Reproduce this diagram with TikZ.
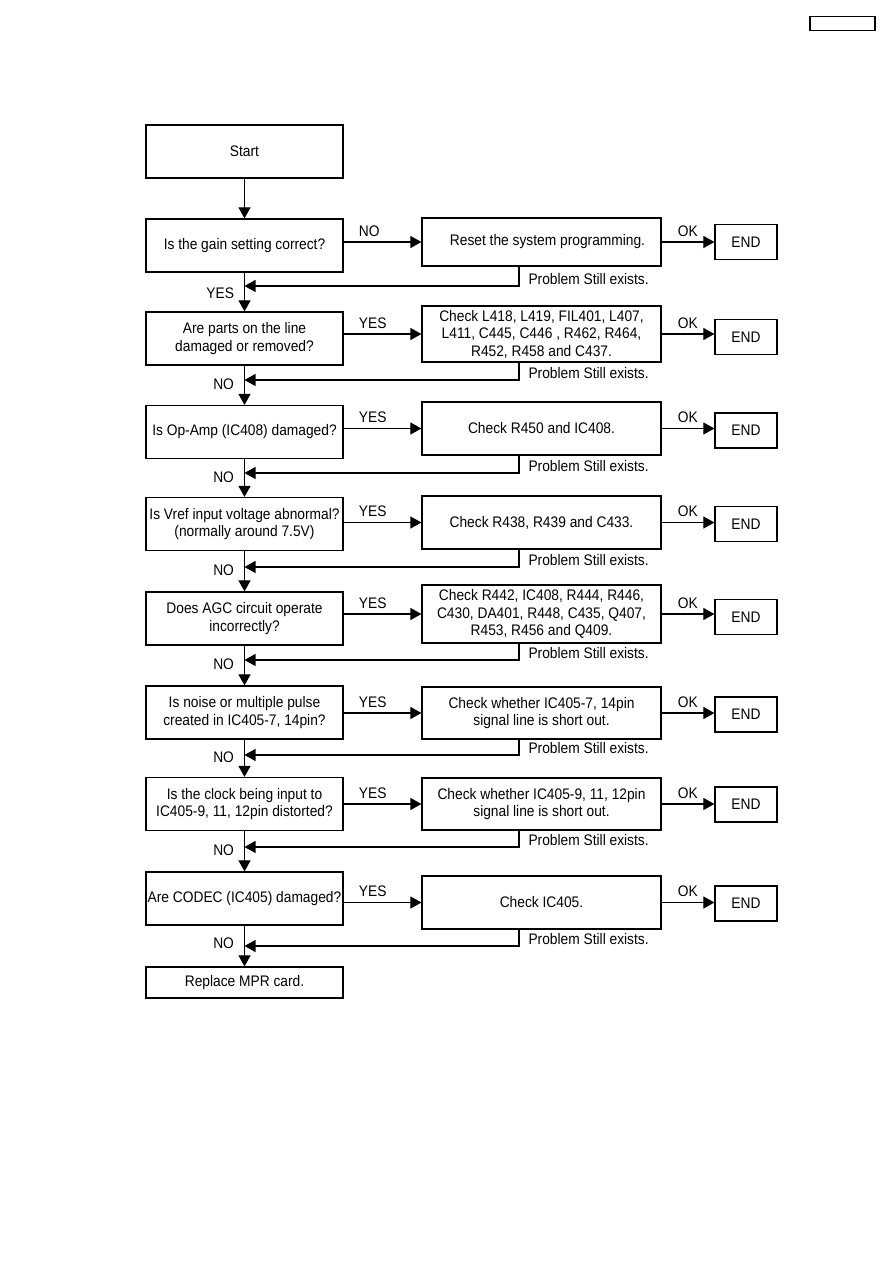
\documentclass[tikz,border=0pt]{standalone}
\usepackage{fontspec}
\setmainfont{Liberation Sans}[FakeStretch=0.9]
\usetikzlibrary{arrows.meta,positioning}
\begin{document}
\begin{tikzpicture}[x=1pt, y=-1pt,
  font=\fontsize{15.3}{17.5}\selectfont,
  box/.style={draw, rectangle, align=center, inner sep=0pt, line width=1.2pt},
  qbox/.style={box, minimum width=197pt, minimum height=53pt},
  cbox/.style={box, minimum width=239pt},
  endbox/.style={box, minimum width=62pt, minimum height=35pt},
  lbl/.style={inner sep=0pt},
  >={Triangle[length=11pt,width=12pt]}, line width=1.1pt
]
\useasboundingbox (0,0) rectangle (893,1263);
\node[box, minimum width=65pt, minimum height=14.5pt] (hdr) at (842.5,23.5) {};

\node[qbox] (start) at (244.5,151.5) {Start};
\node[qbox] (q1) at (244.5,245.5) {Is the gain setting correct?};
\node[qbox] (q2) at (244.5,338.5) {Are parts on the line\\damaged or removed?};
\node[qbox] (q3) at (244.5,432) {Is Op-Amp (IC408) damaged?};
\node[qbox] (q4) at (244.5,524) {Is Vref input voltage abnormal?\\(normally around 7.5V)};
\node[qbox] (q5) at (244.5,618.5) {Does AGC circuit operate\\incorrectly?};
\node[qbox] (q6) at (244.5,712.5) {Is noise or multiple pulse\\created in IC405-7, 14pin?};
\node[qbox] (q7) at (244.5,804) {Is the clock being input to\\IC405-9, 11, 12pin distorted?};
\node[qbox] (q8) at (244.5,898.5) {Are CODEC (IC405) damaged?};
\node[qbox, minimum height=31pt] (mpr) at (244.5,982.5) {Replace MPR card.};

\node[cbox, minimum height=48pt] (c1) at (541.5,242) {\hspace{12pt}Reset the system programming.};
\node[cbox, minimum height=56pt] (c2) at (541.5,334) {Check L418, L419, FIL401, L407,\\L411, C445, C446 , R462, R464,\\R452, R458 and C437.};
\node[cbox, minimum height=53pt] (c3) at (541.5,428.5) {Check R450 and IC408.};
\node[cbox, minimum height=53pt] (c4) at (541.5,522.5) {Check R438, R439 and C433.};
\node[cbox, minimum height=58pt] (c5) at (541.5,614) {Check R442, IC408, R444, R446,\\C430, DA401, R448, C435, Q407,\\R453, R456 and Q409.};
\node[cbox, minimum height=52pt] (c6) at (541.5,713) {Check whether IC405-7, 14pin\\signal line is short out.};
\node[cbox, minimum height=52pt] (c7) at (541.5,804) {Check whether IC405-9, 11, 12pin\\signal line is short out.};
\node[cbox, minimum height=53pt] (c8) at (541.5,902.5) {Check IC405.};

\node[endbox] (e1) at (746,242) {END};
\node[endbox] (e2) at (746,337) {END};
\node[endbox] (e3) at (746,430.5) {END};
\node[endbox] (e4) at (746,524) {END};
\node[endbox] (e5) at (746,617) {END};
\node[endbox] (e6) at (746,714.5) {END};
\node[endbox] (e7) at (746,804.5) {END};
\node[endbox] (e8) at (746,903.5) {END};

\coordinate (r1) at (244.5,286);
\coordinate (r2) at (244.5,380);
\coordinate (r3) at (244.5,473);
\coordinate (r4) at (244.5,567);
\coordinate (r5) at (244.5,660);
\coordinate (r6) at (244.5,755);
\coordinate (r7) at (244.5,847);
\coordinate (r8) at (244.5,946);

\draw[->] (start) -- (q1);
\draw[->] (q1) -- node[lbl, pos=0.52, anchor=east, xshift=-10pt] {YES} (q2);
\draw[->] (q2) -- node[lbl, pos=0.48, anchor=east, xshift=-10pt] {NO} (q3);
\draw[->] (q3) -- node[lbl, pos=0.48, anchor=east, xshift=-10pt] {NO} (q4);
\draw[->] (q4) -- node[lbl, pos=0.48, anchor=east, xshift=-10pt] {NO} (q5);
\draw[->] (q5) -- node[lbl, pos=0.48, anchor=east, xshift=-10pt] {NO} (q6);
\draw[->] (q6) -- node[lbl, pos=0.48, anchor=east, xshift=-10pt] {NO} (q7);
\draw[->] (q7) -- node[lbl, pos=0.48, anchor=east, xshift=-10pt] {NO} (q8);
\draw[->] (q8) -- node[lbl, pos=0.43, anchor=east, xshift=-10pt] {NO} (mpr);

\draw[->] (c1.west -| q1.east) -- node[lbl, pos=0.19, anchor=south west, yshift=5pt] {NO} (c1.west);
\draw[->] (c2.west -| q2.east) -- node[lbl, pos=0.19, anchor=south west, yshift=5pt] {YES} (c2.west);
\draw[->] (c3.west -| q3.east) -- node[lbl, pos=0.19, anchor=south west, yshift=5pt] {YES} (c3.west);
\draw[->] (c4.west -| q4.east) -- node[lbl, pos=0.19, anchor=south west, yshift=5pt] {YES} (c4.west);
\draw[->] (c5.west -| q5.east) -- node[lbl, pos=0.19, anchor=south west, yshift=5pt] {YES} (c5.west);
\draw[->] (c6.west -| q6.east) -- node[lbl, pos=0.19, anchor=south west, yshift=5pt] {YES} (c6.west);
\draw[->] (c7.west -| q7.east) -- node[lbl, pos=0.19, anchor=south west, yshift=5pt] {YES} (c7.west);
\draw[->] (c8.west -| q8.east) -- node[lbl, pos=0.19, anchor=south west, yshift=5pt] {YES} (c8.west);

\draw[->] (c1) -- node[lbl, pos=0.3, anchor=south west, yshift=5pt] {OK} (e1);
\draw[->] (c2.east) -- node[lbl, pos=0.3, anchor=south west, yshift=5pt] {OK} (c2.east -| e2.west);
\draw[->] (c3.east) -- node[lbl, pos=0.3, anchor=south west, yshift=5pt] {OK} (c3.east -| e3.west);
\draw[->] (c4.east) -- node[lbl, pos=0.3, anchor=south west, yshift=5pt] {OK} (c4.east -| e4.west);
\draw[->] (c5.east) -- node[lbl, pos=0.3, anchor=south west, yshift=5pt] {OK} (c5.east -| e5.west);
\draw[->] (c6.east) -- node[lbl, pos=0.3, anchor=south west, yshift=5pt] {OK} (c6.east -| e6.west);
\draw[->] (c7.east) -- node[lbl, pos=0.3, anchor=south west, yshift=5pt] {OK} (c7.east -| e7.west);
\draw[->] (c8.east) -- node[lbl, pos=0.3, anchor=south west, yshift=5pt] {OK} (c8.east -| e8.west);

\draw[->] ([xshift=-22.5pt]c1.south) |- node[lbl, pos=0.5, anchor=base west, xshift=9pt, yshift=2pt] {Problem Still exists.} (r1);
\draw[->] ([xshift=-22.5pt]c2.south) |- node[lbl, pos=0.5, anchor=base west, xshift=9pt, yshift=2pt] {Problem Still exists.} (r2);
\draw[->] ([xshift=-22.5pt]c3.south) |- node[lbl, pos=0.5, anchor=base west, xshift=9pt, yshift=2pt] {Problem Still exists.} (r3);
\draw[->] ([xshift=-22.5pt]c4.south) |- node[lbl, pos=0.5, anchor=base west, xshift=9pt, yshift=2pt] {Problem Still exists.} (r4);
\draw[->] ([xshift=-22.5pt]c5.south) |- node[lbl, pos=0.5, anchor=base west, xshift=9pt, yshift=2pt] {Problem Still exists.} (r5);
\draw[->] ([xshift=-22.5pt]c6.south) |- node[lbl, pos=0.5, anchor=base west, xshift=9pt, yshift=2pt] {Problem Still exists.} (r6);
\draw[->] ([xshift=-22.5pt]c7.south) |- node[lbl, pos=0.5, anchor=base west, xshift=9pt, yshift=2pt] {Problem Still exists.} (r7);
\draw[->] ([xshift=-22.5pt]c8.south) |- node[lbl, pos=0.5, anchor=base west, xshift=9pt, yshift=2pt] {Problem Still exists.} (r8);
\end{tikzpicture}
\end{document}
